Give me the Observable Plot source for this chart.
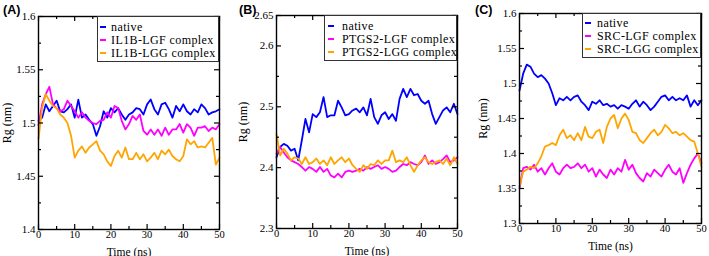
<!DOCTYPE html>
<html><head><meta charset="utf-8">
<script src="https://cdn.jsdelivr.net/npm/d3@7"></script>
<script src="https://cdn.jsdelivr.net/npm/@observablehq/plot@0.6"></script>
<style>
html,body{margin:0;padding:0;background:#fff;}
#wrap{position:relative;width:709px;height:256px;overflow:hidden;font-family:"Liberation Serif","Times New Roman",serif;}
#wrap svg text{font-family:"Liberation Serif","Times New Roman",serif;}
.panel{position:absolute;top:0;}
.tag{position:absolute;top:3px;font-family:"Liberation Sans",Arial,sans-serif;font-weight:bold;font-size:12.5px;line-height:14px;}
.legend{position:absolute;background:#fff;border:1px solid #333;box-sizing:border-box;font-size:12px;letter-spacing:0.4px;}
.row{position:absolute;left:0;right:0;height:12px;line-height:12px;white-space:nowrap;}
.sw{position:absolute;height:2px;width:6px;top:5px;}
.txt{position:absolute;top:0;}
</style></head><body><div id="wrap"></div>
<script>
// time axis (ns)
const time = [0,1,2,3,4,5,6,7,8,9,10,11,12,13,14,15,16,17,18,19,20,21,22,23,24,25,26,27,28,29,30,31,32,33,34,35,36,37,38,39,40,41,42,43,44,45,46,47,48,49,50];
const xMajor = [0,10,20,30,40,50];
const xMinor = [5,15,25,35,45];
const colors = ["#0000ff","#ff00ff","#ffa500"];

// Panel A (IL1B)
const aNames = ["native","IL1B-LGF complex","IL1B-LGG complex"];
const aNative = [1.502,1.505,1.5175,1.511,1.516,1.521,1.511,1.510,1.513,1.5175,1.505,1.522,1.505,1.508,1.503,1.499,1.488,1.497,1.511,1.505,1.514,1.510,1.514,1.508,1.503,1.508,1.510,1.514,1.513,1.508,1.5175,1.522,1.513,1.508,1.5175,1.519,1.513,1.505,1.516,1.511,1.5175,1.511,1.508,1.513,1.510,1.5175,1.514,1.508,1.510,1.511,1.513];
const aLGF = [1.498,1.5175,1.527,1.534,1.5175,1.514,1.511,1.513,1.521,1.516,1.511,1.505,1.510,1.505,1.502,1.500,1.499,1.502,1.503,1.510,1.505,1.516,1.514,1.502,1.494,1.499,1.5066,1.503,1.508,1.4925,1.489,1.494,1.489,1.494,1.488,1.4956,1.489,1.494,1.494,1.499,1.491,1.499,1.4956,1.488,1.4956,1.4956,1.497,1.4925,1.4956,1.494,1.499];
const aLGG = [1.485,1.514,1.527,1.521,1.516,1.514,1.508,1.505,1.500,1.488,1.4675,1.474,1.478,1.472,1.477,1.480,1.483,1.474,1.4706,1.464,1.4596,1.469,1.474,1.4675,1.477,1.466,1.466,1.472,1.466,1.4706,1.464,1.4675,1.472,1.466,1.474,1.4706,1.475,1.469,1.466,1.464,1.469,1.4847,1.480,1.483,1.477,1.478,1.477,1.4815,1.486,1.461,1.4675];
const aYMajor = [1.4,1.45,1.5,1.55,1.6];
const aYMinor = [1.425,1.475,1.525,1.575];

// Panel B (PTGS2)
const bNames = ["native","PTGS2-LGF complex","PTGS2-LGG complex"];
const bNative = [2.417,2.434,2.439,2.436,2.428,2.431,2.412,2.445,2.48,2.458,2.488,2.483,2.491,2.516,2.483,2.486,2.486,2.51,2.499,2.486,2.488,2.494,2.497,2.491,2.499,2.486,2.513,2.483,2.472,2.486,2.491,2.480,2.488,2.477,2.513,2.5295,2.516,2.5295,2.519,2.521,2.51,2.505,2.51,2.488,2.472,2.483,2.494,2.499,2.491,2.505,2.488];
const bLGF = [2.423,2.434,2.425,2.417,2.412,2.409,2.406,2.401,2.395,2.401,2.398,2.393,2.401,2.393,2.398,2.387,2.384,2.39,2.384,2.393,2.395,2.393,2.395,2.398,2.395,2.401,2.398,2.401,2.404,2.398,2.401,2.398,2.393,2.395,2.401,2.406,2.404,2.409,2.406,2.404,2.409,2.42,2.406,2.412,2.406,2.409,2.414,2.42,2.409,2.412,2.417];
const bLGG = [2.455,2.42,2.431,2.423,2.412,2.417,2.415,2.406,2.417,2.406,2.409,2.415,2.406,2.412,2.404,2.417,2.406,2.412,2.417,2.409,2.415,2.404,2.398,2.393,2.404,2.398,2.406,2.404,2.412,2.406,2.412,2.412,2.428,2.409,2.412,2.409,2.417,2.404,2.393,2.404,2.412,2.417,2.409,2.406,2.409,2.412,2.406,2.415,2.404,2.417,2.406];
const bYMajor = [2.3,2.4,2.5,2.6,2.65];
const bYMinor = [2.35,2.45,2.55];

// Panel C (SRC)
const cNames = ["native","SRC-LGF complex","SRC-LGG complex"];
const cNative = [1.49,1.514,1.527,1.524,1.514,1.509,1.512,1.507,1.50,1.486,1.469,1.479,1.476,1.481,1.476,1.481,1.483,1.474,1.469,1.462,1.474,1.471,1.476,1.469,1.471,1.467,1.469,1.464,1.469,1.467,1.464,1.471,1.476,1.467,1.474,1.469,1.462,1.467,1.474,1.481,1.483,1.476,1.481,1.476,1.479,1.476,1.483,1.467,1.476,1.469,1.476];
const cLGF = [1.35,1.379,1.381,1.377,1.384,1.374,1.379,1.37,1.379,1.386,1.374,1.37,1.379,1.384,1.379,1.381,1.386,1.379,1.384,1.374,1.379,1.367,1.377,1.37,1.365,1.377,1.37,1.379,1.374,1.391,1.377,1.384,1.372,1.365,1.36,1.372,1.367,1.377,1.372,1.367,1.377,1.384,1.374,1.37,1.379,1.358,1.372,1.384,1.393,1.40,1.386];
const cLGG = [1.353,1.374,1.377,1.381,1.379,1.386,1.396,1.41,1.412,1.415,1.412,1.426,1.434,1.422,1.426,1.419,1.429,1.419,1.438,1.424,1.422,1.431,1.434,1.415,1.438,1.45,1.455,1.436,1.45,1.457,1.448,1.431,1.429,1.419,1.415,1.422,1.429,1.434,1.426,1.431,1.441,1.436,1.429,1.431,1.426,1.429,1.424,1.419,1.417,1.40,1.381];
const cYMajor = [1.3,1.35,1.4,1.45,1.5,1.55,1.6];
const cYMinor = [1.325,1.375,1.425,1.475,1.525,1.575];

const serif = '"Liberation Serif", "Times New Roman", serif';

const panels = [
  {tag:"(A)", left:0, width:236, ml:38, mr:17, mt:16, mb:27, yDomain:[1.4,1.6], yMajor:aYMajor, yMinor:aYMinor,
   series:[aNative,aLGF,aLGG], names:aNames, ylabOff:36, xlabOff:26, leg:{left:97, top:16, width:122, height:46, sw:2, tx:13, rows:[9.5,22.8,36.1]}},
  {tag:"(B)", left:236, width:236, ml:40, mr:15, mt:15, mb:28, yDomain:[2.3,2.65], yMajor:bYMajor, yMinor:bYMinor,
   series:[bNative,bLGF,bLGG], names:bNames, ylabOff:38, xlabOff:26, leg:{left:324, top:15, width:133, height:46, sw:3, tx:17, rows:[9.5,22.8,36.1]}},
  {tag:"(C)", left:472, width:237, ml:47, mr:8, mt:13, mb:33, yDomain:[1.3,1.6], yMajor:cYMajor, yMinor:cYMinor,
   series:[cNative,cLGF,cLGG], names:cNames, ylabOff:41, xlabOff:26, leg:{left:582, top:13, width:119, height:45, sw:2, tx:14, rows:[8.5,21.8,35.1]}}
];

const wrap = document.getElementById("wrap");

for (const p of panels) {
  const fw = p.width - p.ml - p.mr;
  const fh = 256 - p.mt - p.mb;
  const marks = [];
  p.series.forEach((vals, i) => {
    marks.push(Plot.line(vals, {x: (d, j) => time[j], y: d => d, stroke: colors[i], strokeWidth: 1.8, strokeLinejoin: "round"}));
  });
  // inward ticks on all four sides
  marks.push(
    Plot.tickY(p.yMajor, {y: d => d, insetRight: fw - 5, stroke: "#000", strokeWidth: 1.2}),
    Plot.tickY(p.yMajor, {y: d => d, insetLeft: fw - 5, stroke: "#000", strokeWidth: 1.2}),
    Plot.tickY(p.yMinor, {y: d => d, insetRight: fw - 3, stroke: "#000", strokeWidth: 1.2}),
    Plot.tickY(p.yMinor, {y: d => d, insetLeft: fw - 3, stroke: "#000", strokeWidth: 1.2}),
    Plot.tickX(xMajor, {x: d => d, insetTop: fh - 5, stroke: "#000", strokeWidth: 1.2}),
    Plot.tickX(xMajor, {x: d => d, insetBottom: fh - 5, stroke: "#000", strokeWidth: 1.2}),
    Plot.tickX(xMinor, {x: d => d, insetTop: fh - 3, stroke: "#000", strokeWidth: 1.2}),
    Plot.tickX(xMinor, {x: d => d, insetBottom: fh - 3, stroke: "#000", strokeWidth: 1.2}),
    Plot.frame({stroke: "#000", strokeWidth: 1.4}),
    Plot.axisY({ticks: p.yMajor, tickSize: 0, tickPadding: 3, tickFormat: d => String(d), fontSize: 11, fontFamily: serif, label: null}),
    Plot.axisX({ticks: xMajor, tickSize: 0, tickPadding: 1.5, tickFormat: d => String(d), fontSize: 10.5, fontFamily: serif, label: null}),
    Plot.axisY({ticks: [], tickSize: 0, fontSize: 12, fontFamily: serif,
      label: "Rg (nm)", labelAnchor: "center", labelArrow: "none", labelOffset: p.ylabOff}),
    Plot.axisX({ticks: [], tickSize: 0, fontSize: 11.5, fontFamily: serif,
      label: "Time (ns)", labelAnchor: "center", labelArrow: "none", labelOffset: p.xlabOff})
  );
  const chart = Plot.plot({
    width: p.width, height: 256,
    marginLeft: p.ml, marginRight: p.mr, marginTop: p.mt, marginBottom: p.mb,
    style: {fontFamily: serif, fontSize: "12px", color: "#000", background: "transparent", overflow: "visible"},
    x: {domain: [0, 50]},
    y: {domain: p.yDomain},
    marks
  });
  chart.classList.add("panel");
  chart.style.left = p.left + "px";
  wrap.appendChild(chart);

  // panel tag
  const tag = document.createElement("div");
  tag.className = "tag";
  tag.style.left = (p.left + 3) + "px";
  tag.textContent = p.tag;
  wrap.appendChild(tag);

  // legend box
  const L = p.leg;
  const box = document.createElement("div");
  box.className = "legend";
  Object.assign(box.style, {left: L.left + "px", top: L.top + "px", width: L.width + "px", height: L.height + "px"});
  p.names.forEach((name, i) => {
    const row = document.createElement("div");
    row.className = "row";
    row.style.top = (L.rows[i] - 6) + "px";
    const sw = document.createElement("div");
    sw.className = "sw";
    sw.style.left = L.sw + "px";
    sw.style.background = colors[i];
    const tx = document.createElement("div");
    tx.className = "txt";
    tx.style.left = L.tx + "px";
    tx.textContent = name;
    row.appendChild(sw); row.appendChild(tx);
    box.appendChild(row);
  });
  wrap.appendChild(box);
}
</script></body></html>
